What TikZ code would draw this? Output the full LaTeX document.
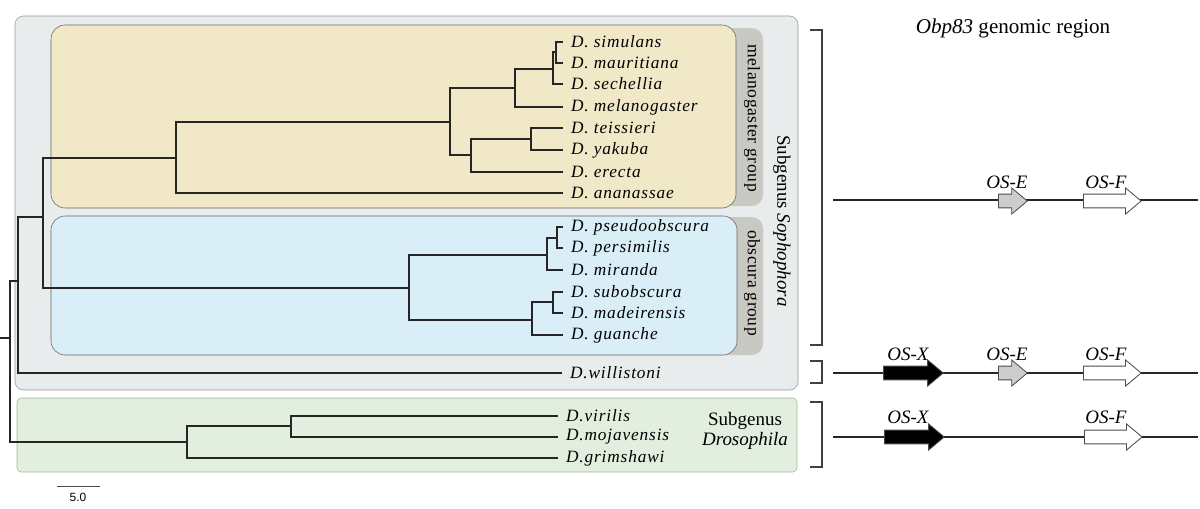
\documentclass[tikz,border=0pt]{standalone}
\usepackage{fontspec}
\setmainfont{Liberation Serif}
\setsansfont{Liberation Sans}
\usetikzlibrary{shapes.arrows}

\definecolor{sophfill}{HTML}{E8ECEC}
\definecolor{melfill}{HTML}{F1E8C8}
\definecolor{obsfill}{HTML}{D9EEF7}
\definecolor{drosfill}{HTML}{E2EEDE}
\definecolor{drosline}{HTML}{9DB79A}
\definecolor{tabfill}{HTML}{C9C9C4}
\definecolor{genegray}{HTML}{CDCDCD}

\begin{document}
\begin{tikzpicture}[x=0.025cm,y=-0.025cm]
  \tikzstyle{branch}=[draw=black!85,line width=0.85pt]
  \tikzstyle{species}=[anchor=west,inner xsep=5.5pt,inner ysep=0pt,font=\fontsize{12.3}{14}\selectfont\itshape\addfontfeature{LetterSpace=5}]
  \tikzstyle{grouplabel}=[rotate=-90,font=\fontsize{12.5}{15}\selectfont\addfontfeature{LetterSpace=3}]
  \tikzstyle{subgenus}=[font=\fontsize{13.5}{16}\selectfont]
  \tikzstyle{bracket}=[draw=black!75,line width=0.8pt]
  \tikzstyle{chrom}=[draw=black!85,line width=0.8pt]
  \tikzstyle{gene}=[single arrow,draw=black!70,line width=0.6pt,anchor=tail,inner xsep=0pt,inner ysep=4.6pt,single arrow head extend=4.4pt,single arrow tip angle=80]
  \tikzstyle{genelabel}=[font=\fontsize{13.5}{16}\selectfont\itshape]

  \useasboundingbox (0,0) rectangle (1200,508);

  % boxes
  \draw[fill=sophfill,draw=black!40,rounded corners=6pt] (15,16) rectangle (798,390);
  \fill[tabfill,rounded corners=8pt] (700,28) rectangle (763,206);
  \fill[tabfill,rounded corners=8pt] (700,217) rectangle (763,355);
  \draw[fill=melfill,draw=black!60,rounded corners=10pt] (51,25) rectangle (736,208);
  \draw[fill=obsfill,draw=black!60,rounded corners=10pt] (51,216) rectangle (737,355);
  \draw[fill=drosfill,draw=drosline,rounded corners=3pt] (17,398) rectangle (797,472);

  \node[grouplabel] (melgrp) at (752,118) {melanogaster group};
  \node[grouplabel] (obsgrp) at (752,283) {obscura group};
  \node[subgenus,rotate=-90] (soph) at (782,221) {Subgenus \textit{Sophophora}};
  \node[subgenus,align=center] (dros) at (745,431) {Subgenus\\[-2pt]\textit{Drosophila}};

  % internal nodes
  \coordinate (rt)     at (0,338);
  \coordinate (r0)     at (10,338);
  \coordinate (nsoph)  at (18,281);
  \coordinate (nsin)   at (43,217);
  \coordinate (nmel)   at (176,158);
  \coordinate (nmelA)  at (450,122);
  \coordinate (nmelB)  at (515,88);
  \coordinate (nmelD)  at (553,69);
  \coordinate (nsimau) at (556,52);
  \coordinate (nmelC)  at (471,155);
  \coordinate (nteyak) at (531,139);
  \coordinate (nobs)   at (409,288);
  \coordinate (nobsA)  at (547,255);
  \coordinate (npsper) at (557,238);
  \coordinate (nobsB)  at (532,320);
  \coordinate (nsbmad) at (553,302);
  \coordinate (ndros)  at (187,442);
  \coordinate (nvirmo) at (291,426);

  % leaves
  \node[species] (sim) at (563,42)  {D. simulans};
  \node[species] (mau) at (563,63)  {D. mauritiana};
  \node[species] (sec) at (563,84)  {D. sechellia};
  \node[species] (mel) at (563,107) {D. melanogaster};
  \node[species] (tei) at (563,128) {D. teissieri};
  \node[species] (yak) at (563,150) {D. yakuba};
  \node[species] (ere) at (563,172) {D. erecta};
  \node[species] (ana) at (563,193) {D. ananassae};
  \node[species] (pse) at (563,227) {D. pseudoobscura};
  \node[species] (per) at (563,248) {D. persimilis};
  \node[species] (mir) at (563,270) {D. miranda};
  \node[species] (sub) at (563,292) {D. subobscura};
  \node[species] (mad) at (563,313) {D. madeirensis};
  \node[species] (gua) at (563,335) {D. guanche};
  \node[species] (wil) at (562,373) {D.willistoni};
  \node[species] (vir) at (558,416) {D.virilis};
  \node[species] (moj) at (558,437) {D.mojavensis};
  \node[species] (gri) at (558,458) {D.grimshawi};

  \path[branch]
  (rt) edge (r0)
  (r0) |- (nsoph)  (r0) |- (ndros)
  (nsoph) |- (nsin)  (nsoph) |- (wil.west)
  (nsin) |- (nmel)  (nsin) |- (nobs)
  (nmel) |- (nmelA)  (nmel) |- (ana.west)
  (nmelA) |- (nmelB)  (nmelA) |- (nmelC)
  (nmelB) |- (nmelD)  (nmelB) |- (mel.west)
  (nmelD) |- (nsimau)  (nmelD) |- (sec.west)
  (nsimau) |- (sim.west)  (nsimau) |- (mau.west)
  (nmelC) |- (nteyak)  (nmelC) |- (ere.west)
  (nteyak) |- (tei.west)  (nteyak) |- (yak.west)
  (nobs) |- (nobsA)  (nobs) |- (nobsB)
  (nobsA) |- (npsper)  (nobsA) |- (mir.west)
  (npsper) |- (pse.west)  (npsper) |- (per.west)
  (nobsB) |- (nsbmad)  (nobsB) |- (gua.west)
  (nsbmad) |- (sub.west)  (nsbmad) |- (mad.west)
  (ndros) |- (nvirmo)  (ndros) |- (gri.west)
  (nvirmo) |- (vir.west)  (nvirmo) |- (moj.west);

  % scale bar
  \draw[draw=black!70,line width=0.7pt] (57,486) -- (100,486);
  \node[font=\sffamily\fontsize{8.5}{10}\selectfont] (scale) at (78,497) {5.0};

  % brackets
  \draw[bracket] (810,30) -- (822,30) -- (822,345) -- (810,345);
  \draw[bracket] (810,361) -- (822,361) -- (822,383) -- (810,383);
  \draw[bracket] (810,402) -- (822,402) -- (822,467) -- (810,467);

  % genomic region
  \node[font=\fontsize{15}{18}\selectfont] (title) at (1013,28) {\textit{Obp83} genomic region};

  \coordinate (s1) at (833,200);  \coordinate (e1) at (1198,200);
  \coordinate (s2) at (833,373);  \coordinate (e2) at (1198,373);
  \coordinate (s3) at (833,437);  \coordinate (e3) at (1198,437);
  \draw[chrom] (s1) -- (e1);
  \draw[chrom] (s2) -- (e2);
  \draw[chrom] (s3) -- (e3);

  \node[gene,fill=genegray,minimum height=20.5pt] (ose1) at (998,201) {};
  \node[gene,fill=white,minimum height=41pt]      (osf1) at (1083,201) {};
  \node[gene,fill=black,minimum height=42.5pt]    (osx2) at (883,373) {};
  \node[gene,fill=genegray,minimum height=20.5pt] (ose2) at (998,373) {};
  \node[gene,fill=white,minimum height=41pt]      (osf2) at (1083,373) {};
  \node[gene,fill=black,minimum height=42.5pt]    (osx3) at (884,437) {};
  \node[gene,fill=white,minimum height=41pt]      (osf3) at (1084,437) {};

  \node[genelabel] (lose1) at (1007,182) {OS-E};
  \node[genelabel] (losf1) at (1106,182) {OS-F};
  \node[genelabel] (losx2) at (908,354) {OS-X};
  \node[genelabel] (lose2) at (1007,354) {OS-E};
  \node[genelabel] (losf2) at (1106,354) {OS-F};
  \node[genelabel] (losx3) at (908,417) {OS-X};
  \node[genelabel] (losf3) at (1106,417) {OS-F};
\end{tikzpicture}
\end{document}
